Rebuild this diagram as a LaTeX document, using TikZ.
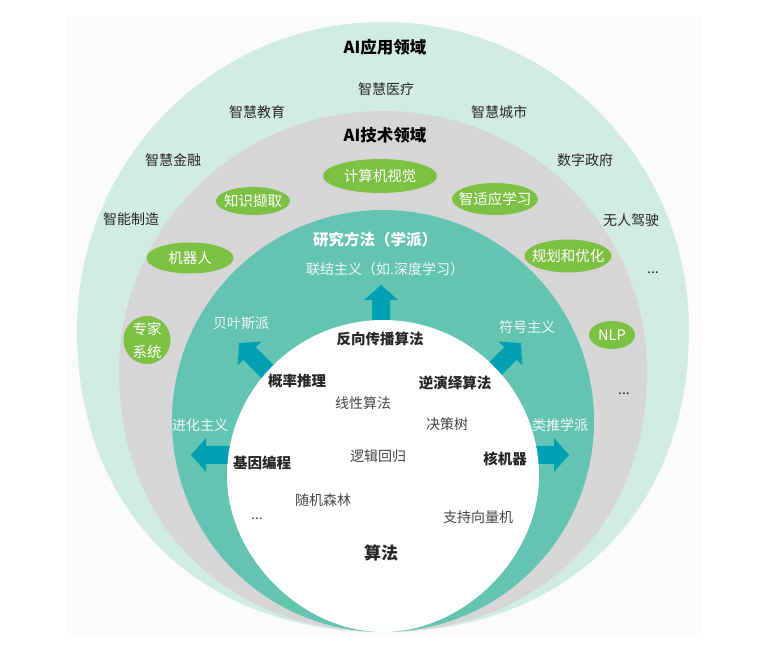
\documentclass[tikz,border=0pt]{standalone}
\usepackage{fontspec}
\setmainfont{Noto Sans CJK SC}
\usetikzlibrary{shapes.geometric}
\definecolor{mint}{HTML}{D1ECE1}
\definecolor{band}{HTML}{D6D6D6}
\definecolor{teal}{HTML}{64C4B2}
\definecolor{leaf}{HTML}{7CC142}
\definecolor{arrowc}{HTML}{00A0B4}
\definecolor{faint}{HTML}{FBFBFB}
\definecolor{txt}{HTML}{262626}
\definecolor{soft}{HTML}{454545}
\definecolor{pale}{HTML}{F2FAF8}
\begin{document}
\begin{tikzpicture}[x=1pt,y=-1pt,
  hdr/.style={font=\bfseries\fontsize{16.5}{18}\selectfont, text=black, inner sep=0pt},
  outer/.style={font=\fontsize{14}{16}\selectfont, text=txt, inner sep=0pt},
  pill/.style={ellipse, fill=leaf, inner sep=0pt},
  pilltxt/.style={font=\fontsize{14.5}{16}\selectfont, text=white, inner sep=0pt},
  bandhdr/.style={font=\bfseries\fontsize{15.5}{17}\selectfont, text=white, inner sep=0pt},
  bandtxt/.style={font=\fontsize{14}{16}\selectfont, text=pale, inner sep=0pt},
  innerb/.style={font=\bfseries\fontsize{14.5}{16}\selectfont, text=txt, inner sep=0pt},
  innerr/.style={font=\fontsize{14}{16}\selectfont, text=soft, inner sep=0pt},
  blockarrow/.style={fill=arrowc}
]
\useasboundingbox (0,0) rectangle (772,652);
\fill[white] (0,0) rectangle (772,652);
\fill[faint] (66,16) rectangle (702,634);

% nested domains (egg shapes, all meeting at the bottom point)
\fill[mint] (383,632)
  .. controls (199,632) and (77,511) .. (77,330)
  .. controls (77,160) and (214,22) .. (383,22)
  .. controls (552,22) and (689,160) .. (689,330)
  .. controls (689,511) and (567,632) .. (383,632) -- cycle;
\fill[band] (383,632)
  .. controls (227,632) and (119,525) .. (119,372)
  .. controls (119,228) and (237,111) .. (383,111)
  .. controls (529,111) and (647,228) .. (647,372)
  .. controls (647,525) and (539,632) .. (383,632) -- cycle;
\fill[teal] (383,421) ellipse [x radius=211, y radius=211];

% arrows from the algorithm core to the schools
\foreach \px/\py/\ang in {381/285/90, 239/343/135, 521/343/45, 191/455/180, 569/455/0}
  \fill[blockarrow, shift={(\px,\py)}, rotate=\ang]
    (0,0) -- (-15,17) -- (-15,9) -- (-70,9) -- (-70,-9) -- (-15,-9) -- (-15,-17) -- cycle;

\fill[white] (383,632)
  .. controls (302,632) and (227,557) .. (227,476)
  .. controls (227,390) and (297,320) .. (383,320)
  .. controls (469,320) and (539,390) .. (539,476)
  .. controls (539,557) and (464,632) .. (383,632) -- cycle;

% application domain
\node[hdr] (app) at (385,47) {AI应用领域};
\node[outer] (med) at (386,89) {智慧医疗};
\node[outer] (edu) at (257,112) {智慧教育};
\node[outer] (city) at (499,112) {智慧城市};
\node[outer] (fin) at (173,160) {智慧金融};
\node[outer] (gov) at (585,160) {数字政府};
\node[outer] (mfg) at (131,219) {智能制造};
\node[outer] (drive) at (631,220) {无人驾驶};
\node[outer] (appmore) at (653,273) {...};

% technology domain
\node[hdr] (tech) at (385,135) {AI技术领域};
\node[pill, minimum width=114, minimum height=34, label={[pilltxt]center:计算机视觉}] (cv) at (380,176) {};
\node[pill, minimum width=74, minimum height=28, label={[pilltxt]center:知识撷取}] (ke) at (253,201) {};
\node[pill, minimum width=86, minimum height=32, label={[pilltxt]center:智适应学习}] (al) at (495,199) {};
\node[pill, minimum width=87, minimum height=31, label={[pilltxt]center:机器人}] (robot) at (190,258) {};
\node[pill, minimum width=87, minimum height=33, label={[pilltxt]center:规划和优化}] (plan) at (568,256) {};
\node[pill, minimum width=47, minimum height=48, label={[pilltxt, align=center, font=\fontsize{14.5}{23}\selectfont]center:专家\\系统}] (expert) at (147,340) {};
\node[pill, minimum width=46, minimum height=28, label={[pilltxt]center:NLP}] (nlp) at (612,335) {};
\node[outer] (techmore) at (624,394) {...};

% schools
\node[bandhdr, anchor=west] (school) at (313,240) {研究方法（学派）};
\node[bandtxt, anchor=west] (conn) at (306,269) {联结主义（如.深度学习）};
\node[bandtxt] (bayes) at (241,323) {贝叶斯派};
\node[bandtxt] (symb) at (527,327) {符号主义};
\node[bandtxt] (evo) at (200,425) {进化主义};
\node[bandtxt] (analog) at (560,425) {类推学派};

% algorithms
\node[innerb] (bp) at (380,339) {反向传播算法};
\node[innerb] (prob) at (297,381) {概率推理};
\node[innerb] (inv) at (455,383) {逆演绎算法};
\node[innerr] (lin) at (363,403) {线性算法};
\node[innerr] (tree) at (447,424) {决策树};
\node[innerb] (gp) at (262,463) {基因编程};
\node[innerr] (logit) at (378,456) {逻辑回归};
\node[innerb] (kern) at (505,459) {核机器};
\node[innerr] (rf) at (323,500) {随机森林};
\node[innerr] (svm) at (478,517) {支持向量机};
\node[innerr] (algmore) at (257,519) {...};
\node[innerb, font=\bfseries\fontsize{17}{19}\selectfont] (alg) at (381,553) {算法};
\end{tikzpicture}
\end{document}
